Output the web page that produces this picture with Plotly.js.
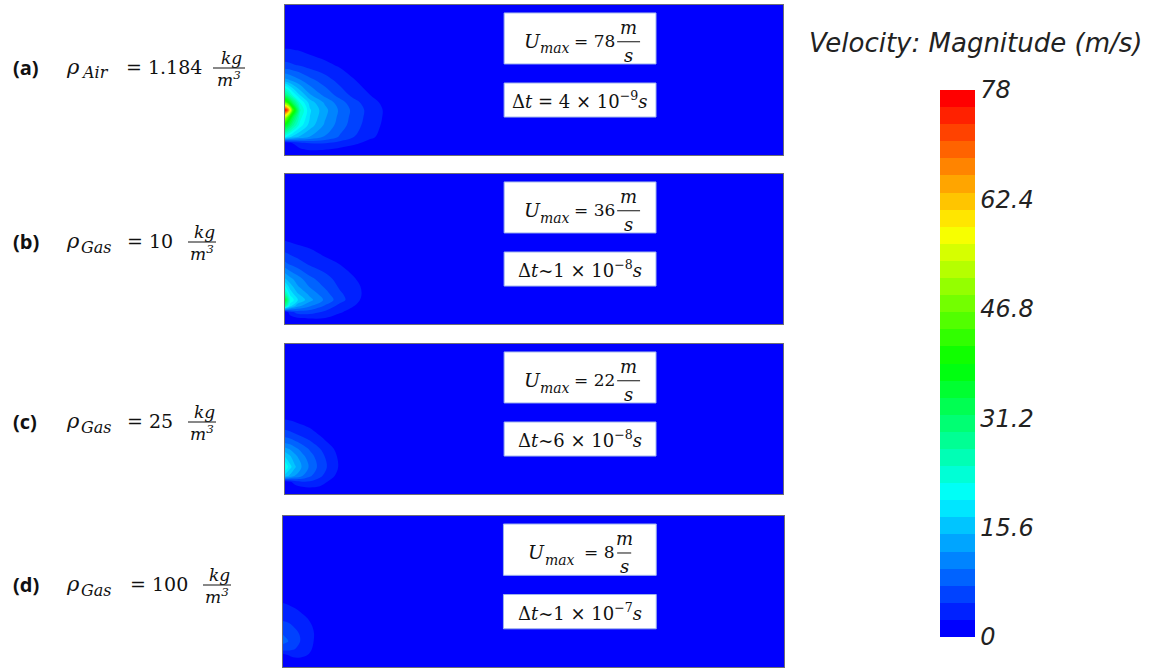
<!DOCTYPE html>
<html>
<head>
<meta charset="utf-8">
<script src="https://cdn.plot.ly/plotly-3.0.1.min.js"></script>
<style>
  html, body { margin: 0; padding: 0; background: #ffffff; }
  #chart { width: 1160px; height: 669px; }
</style>
</head>
<body>
<div id="chart"></div>
<script>
// ---------------------------------------------------------------------------
// Velocity magnitude (m/s) on coarse sampling grids for the four gas densities.
// x: fraction of the channel length from the inlet wall, y: fraction of the
// channel height from the bottom wall. Each row of a speed table follows y.
// ---------------------------------------------------------------------------
const xA = [0, 0.006, 0.015, 0.03, 0.05, 0.08, 0.11, 0.14, 0.17, 0.2, 0.25, 1];
const yA = [0, 0.04, 0.08, 0.12, 0.2, 0.25, 0.3, 0.35, 0.4, 0.5, 0.6, 0.7, 0.8, 1];
const speedA = [
  [0, 0, 0, 0, 0, 0, 0, 0, 0, 0, 0, 0],
  [0, 0.2, 1, 2.2, 3, 2.8, 2, 1, 0.5, 0, 0, 0],
  [0, 1, 2.5, 4, 5, 5, 4, 3, 1.5, 0.5, 0, 0],
  [20, 18, 16, 14, 12, 9.5, 7, 4.8, 3, 1.5, 0, 0],
  [38, 34, 28, 21, 16, 11.8, 8.6, 5.9, 3.6, 2, 0, 0],
  [52, 44, 34, 23, 17, 12.5, 9, 6.2, 3.9, 2.15, 0, 0],
  [78, 70, 45, 25, 17.4, 13, 9.3, 6.4, 4, 2.2, 0, 0],
  [45, 40, 32, 22, 16, 11.8, 8.4, 5.6, 3.5, 1.8, 0, 0],
  [30, 27, 22, 17, 12.5, 9, 6.3, 4, 2.5, 1, 0, 0],
  [13, 12.5, 11.5, 10, 8, 6, 4, 2.5, 1, 0, 0, 0],
  [5.5, 5.4, 5.1, 4.6, 3.8, 3, 2.1, 1, 0, 0, 0, 0],
  [2.6, 2.58, 2.5, 2.3, 1.8, 1.2, 0.6, 0.2, 0, 0, 0, 0],
  [0.8, 0.7, 0.6, 0.5, 0.3, 0.1, 0, 0, 0, 0, 0, 0],
  [0, 0, 0, 0, 0, 0, 0, 0, 0, 0, 0, 0]
];

const xB = [0, 0.01, 0.025, 0.05, 0.08, 0.11, 0.14, 0.17, 0.2, 1];
const yB = [0, 0.04, 0.08, 0.12, 0.16, 0.2, 0.25, 0.3, 0.4, 0.5, 0.6, 1];
const speedB = [
  [0, 0, 0, 0, 0, 0, 0, 0, 0, 0],
  [0, 1.2, 2.2, 2.7, 2.5, 1.2, 0.3, 0, 0, 0],
  [0, 4, 6, 6, 4.5, 2.8, 1.2, 0, 0, 0],
  [28, 18, 13, 10, 7, 4, 2.4, 0.5, 0, 0],
  [36, 22, 17.2, 13, 9.3, 5.9, 3.2, 1, 0, 0],
  [27, 19, 15, 11.5, 8.3, 5.3, 3.4, 1.3, 0, 0],
  [20, 16, 12.5, 9.5, 7, 4.5, 3.2, 1.2, 0, 0],
  [15, 13, 11, 8, 6, 3.8, 2.6, 0.6, 0, 0],
  [8, 7, 6, 4.5, 3.3, 2.4, 1, 0, 0, 0],
  [4, 3.6, 3.1, 2.5, 1.5, 0.8, 0.2, 0, 0, 0],
  [1.2, 1, 0.8, 0.5, 0.2, 0, 0, 0, 0, 0],
  [0, 0, 0, 0, 0, 0, 0, 0, 0, 0]
];

const xC = [0, 0.01, 0.02, 0.035, 0.05, 0.07, 0.09, 0.11, 0.13, 1];
const yC = [0, 0.04, 0.08, 0.12, 0.18, 0.25, 0.3, 0.35, 0.4, 0.45, 0.5, 0.6, 1];
const speedC = [
  [0, 0, 0, 0, 0, 0, 0, 0, 0, 0],
  [0, 0.5, 1.2, 1.9, 2.2, 2, 1.2, 0.4, 0, 0],
  [0.5, 2, 3.4, 4.6, 4.5, 3.5, 2, 0.8, 0, 0],
  [16, 14, 12, 9.7, 7.7, 5.4, 3.3, 1.5, 0, 0],
  [22, 18, 15, 11.8, 9.3, 6.5, 4.2, 2.1, 0, 0],
  [17, 15, 13, 10.5, 8.4, 5.9, 3.8, 1.9, 0, 0],
  [13, 12, 10.6, 8.7, 7, 5, 3.1, 1.5, 0, 0],
  [9, 8.5, 7.6, 6.3, 5.1, 3.3, 2, 0.9, 0, 0],
  [6, 5.6, 5, 4.1, 3.3, 2.2, 1.2, 0.4, 0, 0],
  [4, 3.7, 3.3, 2.7, 2.2, 1.4, 0.6, 0, 0, 0],
  [2.3, 2.1, 1.9, 1.5, 1.1, 0.6, 0.2, 0, 0, 0],
  [0.5, 0.4, 0.3, 0.2, 0, 0, 0, 0, 0, 0],
  [0, 0, 0, 0, 0, 0, 0, 0, 0, 0]
];

const xD = [0, 0.01, 0.02, 0.035, 0.05, 0.065, 0.08, 0.1, 1];
const yD = [0, 0.04, 0.08, 0.12, 0.17, 0.22, 0.27, 0.33, 0.38, 0.42, 0.5, 1];
const speedD = [
  [0, 0, 0, 0, 0, 0, 0, 0, 0],
  [0, 1, 1.6, 1.8, 1.5, 0.8, 0.3, 0, 0],
  [1.5, 2.5, 3, 2.9, 2.4, 1.4, 0.5, 0, 0],
  [6, 5.8, 5.2, 4.1, 3, 1.9, 0.8, 0, 0],
  [8, 7.4, 6.4, 4.8, 3.4, 2.1, 0.9, 0, 0],
  [7.2, 6.8, 6, 4.6, 3.4, 2.2, 1, 0, 0],
  [5.8, 5.5, 4.9, 3.9, 3, 2, 0.9, 0, 0],
  [4.2, 4, 3.6, 2.9, 2.3, 1.5, 0.6, 0, 0],
  [3.2, 3, 2.7, 2.2, 1.7, 1, 0.4, 0, 0],
  [2.5, 2.3, 2, 1.6, 1.2, 0.7, 0.2, 0, 0],
  [1.2, 1, 0.8, 0.6, 0.4, 0.2, 0, 0, 0],
  [0, 0, 0, 0, 0, 0, 0, 0, 0]
];

// Case labels
const panelTags   = ['(a)', '(b)', '(c)', '(d)'];
const fluidNames  = ['Air', 'Gas', 'Gas', 'Gas'];
const densities   = ['1.184', '10', '25', '100'];
const peakSpeeds  = [78, 36, 22, 8];
const stepSigns   = ['=', '~', '~', '~'];
const stepCoeffs  = [4, 1, 6, 1];
const stepExps    = [-9, -8, -8, -7];

// Colour bar
const speedMin = 0;
const speedMax = 78;
const bandCount = 32;
const barTicks = [0, 15.6, 31.2, 46.8, 62.4, 78];
const barTickText = ['0', '15.6', '31.2', '46.8', '62.4', '78'];

// ---------------------------------------------------------------------------
const W = 1160, H = 669;
const px = v => v / W;
const py = v => 1 - v / H;

// blue -> cyan -> green -> yellow -> red
const rainbow = [
  [0.00, 'rgb(0,0,255)'],
  [0.25, 'rgb(0,255,255)'],
  [0.50, 'rgb(0,255,0)'],
  [0.75, 'rgb(255,255,0)'],
  [1.00, 'rgb(255,0,0)']
];
const band = (speedMax - speedMin) / bandCount;

// pixel frames of the four channel views
const frames = [
  { x0: 285, x1: 783, y0: 5,   y1: 155 },
  { x0: 285, x1: 783, y0: 174, y1: 324 },
  { x0: 285, x1: 783, y0: 344, y1: 494 },
  { x0: 283, x1: 784, y0: 516, y1: 667 }
];

const fields = [
  { x: xA, y: yA, z: speedA },
  { x: xB, y: yB, z: speedB },
  { x: xC, y: yC, z: speedC },
  { x: xD, y: yD, z: speedD }
];

const data = fields.map((f, i) => {
  const n = i === 0 ? '' : String(i + 1);
  const tr = {
    type: 'contour',
    x: f.x, y: f.y, z: f.z,
    xaxis: 'x' + n, yaxis: 'y' + n,
    colorscale: rainbow,
    zauto: false, zmin: speedMin, zmax: speedMax,
    autocontour: false,
    contours: { start: speedMin + band, end: speedMax - band, size: band,
                coloring: 'fill', showlines: false },
    line: { width: 0, smoothing: 1 },
    hoverinfo: 'skip',
    showscale: i === 0
  };
  if (i === 0) {
    tr.colorbar = {
      x: px(940), xanchor: 'left', xpad: 0,
      y: py(363.5), yanchor: 'middle', ypad: 0,
      len: 547, lenmode: 'pixels',
      thickness: 35, thicknessmode: 'pixels',
      outlinewidth: 0,
      tickmode: 'array', tickvals: barTicks, ticktext: barTickText,
      ticks: '', ticklabelposition: 'outside',
      tickfont: { family: 'DejaVu Sans, Verdana, sans-serif', size: 24, style: 'italic', color: '#222' }
    };
  }
  return tr;
});

const layout = {
  width: W, height: H,
  margin: { l: 0, r: 0, t: 0, b: 0, pad: 0 },
  paper_bgcolor: '#ffffff',
  plot_bgcolor: 'rgb(0,0,255)',
  showlegend: false,
  hovermode: false,
  annotations: [],
  shapes: []
};

frames.forEach((fr, i) => {
  const n = i === 0 ? '' : String(i + 1);
  const common = {
    range: [0, 1], showgrid: false, zeroline: false, showticklabels: false,
    ticks: '', showline: true, mirror: true, linecolor: '#6e6e78', linewidth: 1,
    fixedrange: true
  };
  layout['xaxis' + n] = Object.assign({ domain: [px(fr.x0), px(fr.x1)], anchor: 'y' + n }, common);
  layout['yaxis' + n] = Object.assign({ domain: [py(fr.y1), py(fr.y0)], anchor: 'x' + n }, common);
});

const SERIF = 'DejaVu Serif, serif';
const mathFont = { family: SERIF, size: 19, color: '#111' };
const mathItalic = Object.assign({}, mathFont, { style: 'italic' });
const boxFont = { family: SERIF, size: 17, color: '#111' };
const boxItalic = Object.assign({}, boxFont, { style: 'italic' });
const note = (o) => Object.assign({ showarrow: false }, o);

// left-hand case labels
const tagY   = [67, 241, 421, 584];
const eqX    = [124, 125, 125, 128];
const fracX  = [229, 202, 202, 217];
const fracW  = [32, 28, 28, 28];

panelTags.forEach((tag, i) => {
  const cy = tagY[i];
  const A = layout.annotations, S = layout.shapes;
  A.push(note({ xref: 'paper', yref: 'paper', x: px(11), y: py(cy), xanchor: 'left', yanchor: 'middle',
           text: '<b>' + tag + '</b>',
           font: { family: 'Open Sans, Lato, sans-serif', size: 20, color: '#111' } }));
  A.push(note({ xref: 'paper', yref: 'paper', x: px(64), y: py(cy), xanchor: 'left', yanchor: 'middle',
           text: 'ρ', font: Object.assign({}, mathItalic, { size: 21 }) }));
  A.push(note({ xref: 'paper', yref: 'paper', x: px(79), y: py(cy + 6), xanchor: 'left', yanchor: 'middle',
           text: fluidNames[i], font: Object.assign({}, mathItalic, { size: 16 }) }));
  A.push(note({ xref: 'paper', yref: 'paper', x: px(eqX[i]), y: py(cy), xanchor: 'left', yanchor: 'middle',
           text: '= ' + densities[i], font: mathFont }));
  // kg / m^3 fraction
  const fx = fracX[i], hw = fracW[i] / 2, by = cy + 1;
  A.push(note({ xref: 'paper', yref: 'paper', x: px(fx + 2), y: py(by - 10), xanchor: 'center', yanchor: 'middle',
           text: 'kg', font: Object.assign({}, mathItalic, { size: 17 }) }));
  A.push(note({ xref: 'paper', yref: 'paper', x: px(fx), y: py(by + 11), xanchor: 'center', yanchor: 'middle',
           text: 'm<sup>3</sup>', font: Object.assign({}, mathItalic, { size: 17 }) }));
  S.push({ type: 'line', xref: 'paper', yref: 'paper', x0: px(fx - hw), x1: px(fx + hw), y0: py(by), y1: py(by),
           line: { color: '#111', width: 1 } });
});

// white information boxes inside each channel view
peakSpeeds.forEach((u, i) => {
  const n = i === 0 ? '' : String(i + 1);
  const xr = 'x' + n + ' domain', yr = 'y' + n + ' domain';
  const A = layout.annotations, S = layout.shapes;
  const boxLine = { color: '#9fb2ec', width: 1 };
  S.push({ type: 'rect', xref: xr, yref: yr, x0: 0.44, x1: 0.745, y0: 0.607, y1: 0.947,
           fillcolor: '#ffffff', line: boxLine, layer: 'above' });
  S.push({ type: 'rect', xref: xr, yref: yr, x0: 0.44, x1: 0.745, y0: 0.253, y1: 0.48,
           fillcolor: '#ffffff', line: boxLine, layer: 'above' });
  const oneDigit = String(u).length === 1;
  const lead = oneDigit ? 0.009 : 0;       // shorter value: group sits further right
  A.push(note({ xref: xr, yref: yr, x: 0.476 + lead, y: 0.76, xanchor: 'left', yanchor: 'middle',
           text: 'U', font: Object.assign({}, boxItalic, { size: 19 }) }));
  A.push(note({ xref: xr, yref: yr, x: 0.509 + lead, y: 0.71, xanchor: 'left', yanchor: 'middle',
           text: 'max', font: Object.assign({}, boxItalic, { size: 14 }) }));
  A.push(note({ xref: xr, yref: yr, x: oneDigit ? 0.597 : 0.576, y: 0.76, xanchor: 'left', yanchor: 'middle',
           text: '= ' + u, font: boxFont }));
  const fx = oneDigit ? 0.681 : 0.69;
  A.push(note({ xref: xr, yref: yr, x: fx, y: 0.85, xanchor: 'center', yanchor: 'middle',
           text: 'm', font: Object.assign({}, boxItalic, { size: 18 }) }));
  A.push(note({ xref: xr, yref: yr, x: fx, y: 0.665, xanchor: 'center', yanchor: 'middle',
           text: 's', font: Object.assign({}, boxItalic, { size: 18 }) }));
  const hw = oneDigit ? 0.014 : 0.023;
  S.push({ type: 'line', xref: xr, yref: yr, x0: fx - hw, x1: fx + hw, y0: 0.755, y1: 0.755,
           line: { color: '#111', width: 1 }, layer: 'above' });
  const sign = stepSigns[i] === '=' ? ' = ' : '~';
  A.push(note({ xref: xr, yref: yr, x: 0.592, y: 0.367, xanchor: 'center', yanchor: 'middle',
           text: 'Δ<i>t</i>' + sign + stepCoeffs[i] + ' × 10<sup>−' + Math.abs(stepExps[i]) + '</sup><i>s</i>',
           font: Object.assign({}, boxFont, { size: 18 }) }));
});

// colour bar heading
layout.annotations.push(note({
  xref: 'paper', yref: 'paper', x: px(975), y: py(43), xanchor: 'center', yanchor: 'middle',
  text: 'Velocity: Magnitude (m/s)',
  font: { family: 'DejaVu Sans, Verdana, sans-serif', size: 26, style: 'italic', color: '#222' }
}));

Plotly.newPlot('chart', data, layout, { staticPlot: true, displayModeBar: false });
</script>
</body>
</html>
